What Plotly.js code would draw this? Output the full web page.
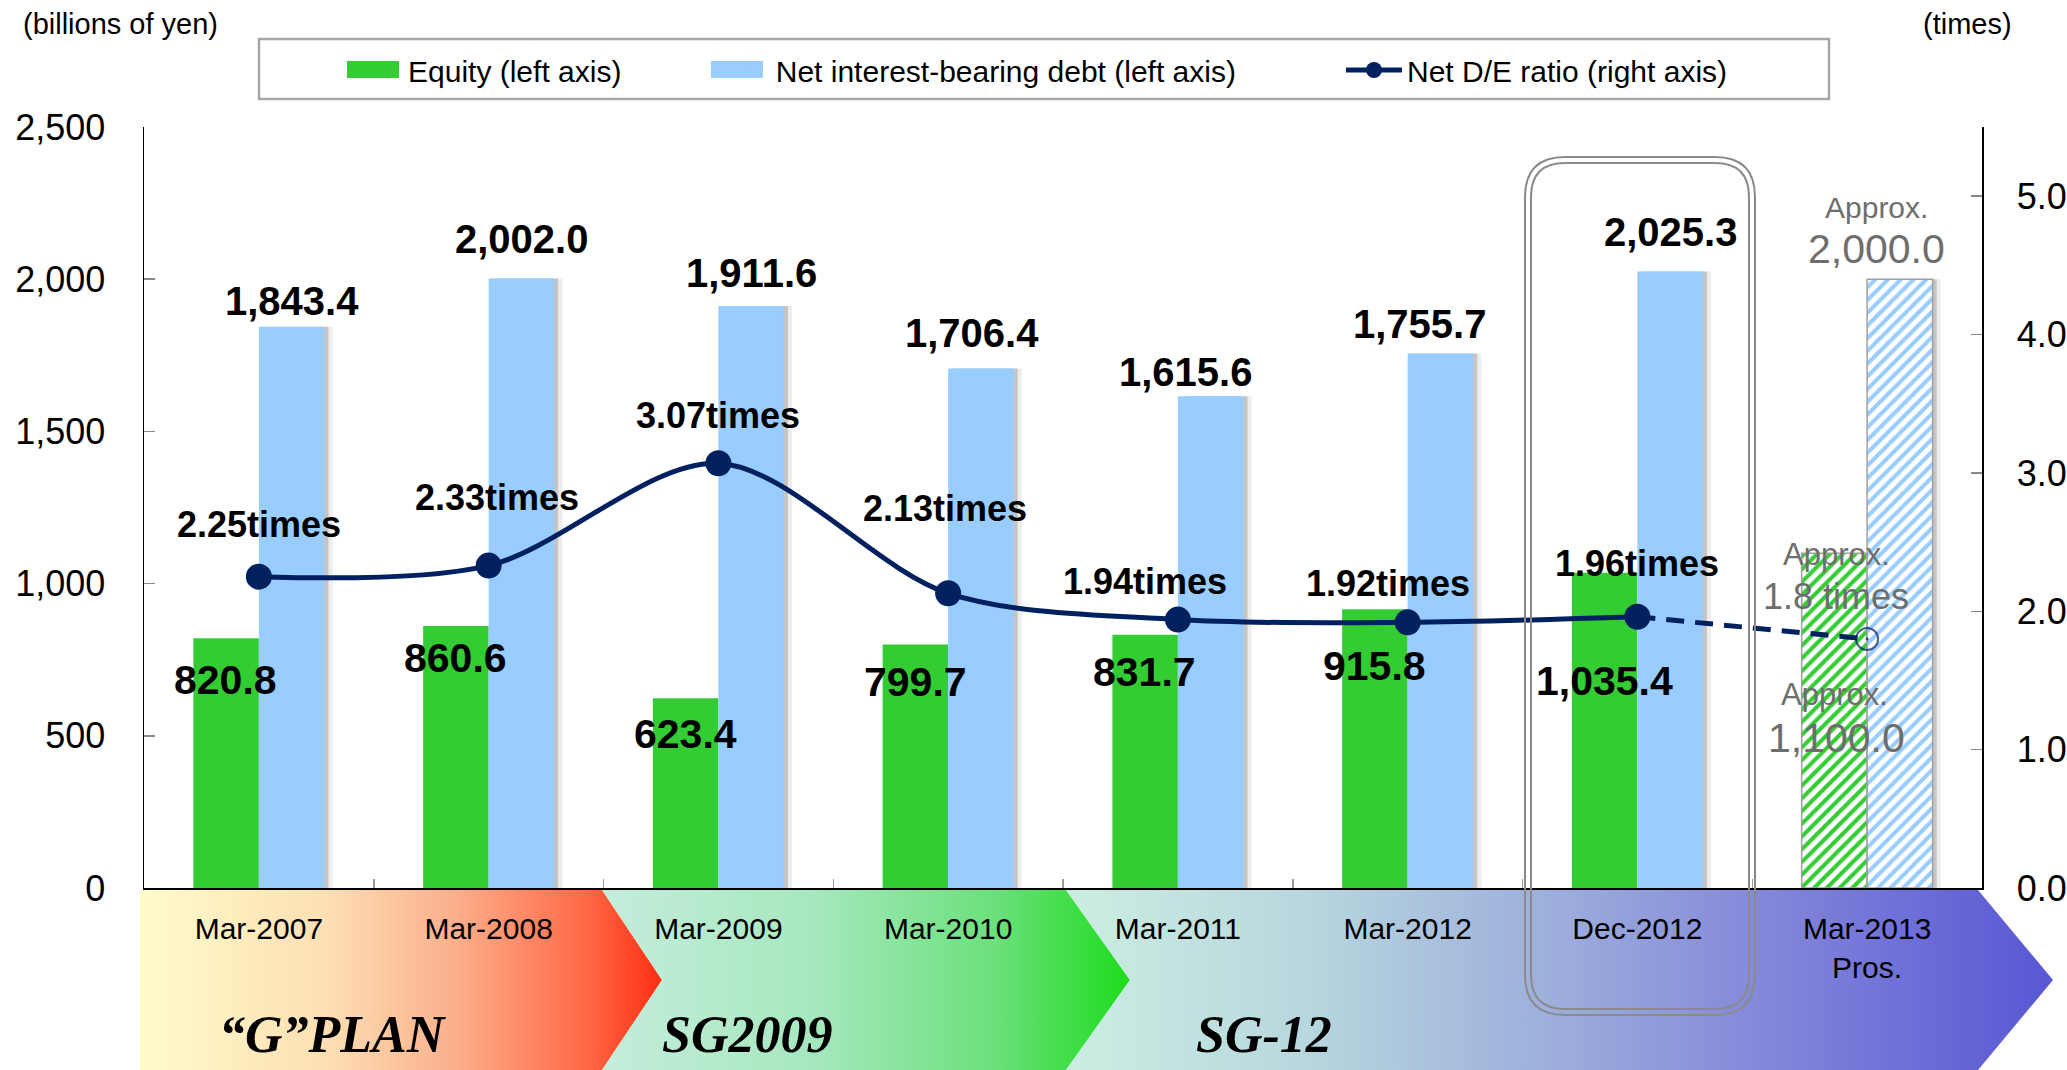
<!DOCTYPE html>
<html><head><meta charset="utf-8">
<script src="https://cdn.plot.ly/plotly-3.0.1.min.js"></script>
<style>html,body{margin:0;padding:0;background:#fff}#chart{width:2067px;height:1070px}</style>
</head><body><div id="chart"></div>
<script>
// ---------------- data ----------------
const categories = ['Mar-2007','Mar-2008','Mar-2009','Mar-2010','Mar-2011','Mar-2012','Dec-2012','Mar-2013<br>Pros.'];
const equity  = [820.8, 860.6, 623.4, 799.7, 831.7, 915.8, 1035.4, 1100.0];
const netDebt = [1843.4, 2002.0, 1911.6, 1706.4, 1615.6, 1755.7, 2025.3, 2000.0];
const deRatio = [2.25, 2.33, 3.07, 2.13, 1.94, 1.92, 1.96, 1.8];
const isProspect = [false, false, false, false, false, false, false, true];
const leftTicks  = [0, 500, 1000, 1500, 2000, 2500];
const rightTicks = [0, 1, 2, 3, 4, 5];
const planNames = ['“G”PLAN', 'SG2009', 'SG-12'];
const seriesNames = ['Equity (left axis)', 'Net interest-bearing debt (left axis)', 'Net D/E ratio (right axis)'];

// ---------------- styling / geometry ----------------
const W = 2067, H = 1070;
const PL = 144, PR = 1982, PT = 127, PB = 888;
const FONT = '"Liberation Sans", Arial, sans-serif';
const GREEN = '#33CC33', BLUE = '#99CCFF', NAVY = '#002060', GREYTXT = '#6E6E6E';
const BW = 0.285; // bar width in category units
// label nudges (pixels)
const debtLabelDy = [26, 40, 33, 36, 24, 30, 40];
const debtLabelDx = [0, 0, 0, -9, -25, -21, 0];
const eqLabelDy   = [42, 32, 36, 37, 37, 57, 108];
const deLabelDy   = [52, 68, 48, 85, 38, 39, 53];
const deLabelDx   = [0, 8, 0, -3, -33, -20, 0];

const fmt1 = v => v.toLocaleString('en-US', {minimumFractionDigits: 1, maximumFractionDigits: 1});
const nbsp = n => '\u00a0'.repeat(n);

const n = categories.length;
const lastIdx = n - 1;

// ---------------- traces ----------------
const traces = [];

// Bottom plan chevrons (pixel axes x/y)
const bands = [
  {x: [140, 602, 662, 602, 140], y: [890, 890, 980, 1070, 1070],
   cs: [[0,'#FFFBCB'],[0.35,'#FDE0B4'],[0.6,'#FBB08C'],[0.85,'#FF6A48'],[1,'#FF2E12']]},
  {x: [602, 1066, 1130, 1066, 602, 662], y: [890, 890, 980, 1070, 1070, 980],
   cs: [[0,'#C5EDDC'],[0.4,'#A6E8BE'],[0.75,'#6AE07A'],[1,'#1EDC1E']]},
  {x: [1066, 1978, 2053, 1978, 1066, 1130], y: [890, 890, 980, 1070, 1070, 980],
   cs: [[0,'#CBEEE1'],[0.25,'#B7D6DE'],[0.5,'#9CADDC'],[0.75,'#7E80D9'],[1,'#5757D4']]}
];
bands.forEach(b => traces.push({
  type: 'scatter', mode: 'lines', x: b.x.concat([b.x[0]]), y: b.y.concat([b.y[0]]),
  xaxis: 'x', yaxis: 'y', fill: 'toself', line: {width: 0, color: 'rgba(0,0,0,0)'},
  fillgradient: {type: 'horizontal', colorscale: b.cs},
  hoverinfo: 'skip', showlegend: false
}));

// bar shadows
[[0.018, 'rgba(0,0,0,0.17)'], [0.036, 'rgba(0,0,0,0.07)']].forEach(s => traces.push({
  type: 'bar', x: categories, y: netDebt, xaxis: 'x2', yaxis: 'y2',
  offset: s[0], width: BW, marker: {color: s[1], line: {width: 0}},
  hoverinfo: 'skip', showlegend: false
}));

const patShape = isProspect.map(p => p ? '/' : '');
const lineCol = isProspect.map(p => p ? '#A0A0A0' : 'rgba(0,0,0,0)');
const lineW = isProspect.map(p => p ? 1.5 : 0);

traces.push({
  type: 'bar', name: seriesNames[0] + nbsp(10), x: categories, y: equity, xaxis: 'x2', yaxis: 'y2',
  offset: -BW, width: BW,
  marker: {color: GREEN, line: {color: lineCol, width: lineW},
           pattern: {shape: patShape, bgcolor: 'white', size: 9, solidity: 0.45, fillmode: 'replace'}},
  hoverinfo: 'skip'
});
traces.push({
  type: 'bar', name: seriesNames[1] + nbsp(12), x: categories, y: netDebt, xaxis: 'x2', yaxis: 'y2',
  offset: 0, width: BW,
  marker: {color: BLUE, line: {color: lineCol, width: lineW},
           pattern: {shape: patShape, bgcolor: 'white', size: 9, solidity: 0.45, fillmode: 'replace'}},
  hoverinfo: 'skip'
});

// dashed prospect segment
traces.push({
  type: 'scatter', mode: 'lines+markers', x: categories.slice(lastIdx - 1), y: deRatio.slice(lastIdx - 1),
  xaxis: 'x2', yaxis: 'y3', showlegend: false, hoverinfo: 'skip',
  line: {color: NAVY, width: 5, dash: '18px,11px'},
  marker: {symbol: ['circle', 'circle-open-dot'], size: [0, 22], color: NAVY, line: {color: NAVY, width: 2}}
});
// solid actual line
traces.push({
  type: 'scatter', mode: 'lines+markers', name: seriesNames[2],
  x: categories.slice(0, lastIdx), y: deRatio.slice(0, lastIdx),
  xaxis: 'x2', yaxis: 'y3', hoverinfo: 'skip',
  line: {color: NAVY, width: 5, shape: 'spline', smoothing: 0.9},
  marker: {symbol: 'circle', size: 26, color: NAVY}
});

// ---------------- annotations ----------------
const ann = [];
const boldFont = (s) => ({family: FONT, size: s, color: '#000000', weight: 'bold'});
for (let i = 0; i < n; i++) {
  if (isProspect[i]) continue;
  ann.push({x: categories[i], y: netDebt[i], xref: 'x2', yref: 'y2', showarrow: false,
    text: '<b>' + fmt1(netDebt[i]) + '</b>', font: boldFont(40),
    xshift: 33 + debtLabelDx[i], yshift: debtLabelDy[i], yanchor: 'middle'});
  ann.push({x: categories[i], y: equity[i], xref: 'x2', yref: 'y2', showarrow: false,
    text: '<b>' + fmt1(equity[i]) + '</b>', font: boldFont(41),
    xshift: -33, yshift: -eqLabelDy[i], yanchor: 'middle'});
  ann.push({x: categories[i], y: deRatio[i], xref: 'x2', yref: 'y3', showarrow: false,
    text: '<b>' + deRatio[i].toFixed(2) + 'times</b>', font: boldFont(36),
    xshift: deLabelDx[i], yshift: deLabelDy[i], yanchor: 'middle'});
}
// prospect labels (grey)
const gFont = s => ({family: FONT, size: s, color: GREYTXT});
ann.push({x: categories[lastIdx], y: netDebt[lastIdx], xref: 'x2', yref: 'y2', showarrow: false,
  text: 'Approx.', font: gFont(30), xshift: 9, yshift: 72, yanchor: 'middle'});
ann.push({x: categories[lastIdx], y: netDebt[lastIdx], xref: 'x2', yref: 'y2', showarrow: false,
  text: fmt1(netDebt[lastIdx]), font: gFont(41), xshift: 9, yshift: 30, yanchor: 'middle'});
ann.push({x: categories[lastIdx], y: deRatio[lastIdx], xref: 'x2', yref: 'y3', showarrow: false,
  text: 'Approx.', font: gFont(31), xshift: -31, yshift: 84, yanchor: 'middle'});
ann.push({x: categories[lastIdx], y: deRatio[lastIdx], xref: 'x2', yref: 'y3', showarrow: false,
  text: deRatio[lastIdx].toFixed(1) + ' times', font: gFont(36), xshift: -31, yshift: 42, yanchor: 'middle'});
ann.push({x: categories[lastIdx], y: deRatio[lastIdx], xref: 'x2', yref: 'y3', showarrow: false,
  text: 'Approx.', font: gFont(31), xshift: -33, yshift: -56, yanchor: 'middle'});
ann.push({x: categories[lastIdx], y: deRatio[lastIdx], xref: 'x2', yref: 'y3', showarrow: false,
  text: fmt1(equity[lastIdx]), font: gFont(41), xshift: -31, yshift: -99, yanchor: 'middle'});

// axis unit titles
ann.push({x: 120, y: 24, xref: 'x', yref: 'y', showarrow: false, text: '(billions of yen)',
  font: {family: FONT, size: 29, color: '#000'}, yanchor: 'middle'});
ann.push({x: 1967, y: 24, xref: 'x', yref: 'y', showarrow: false, text: '(times)',
  font: {family: FONT, size: 29, color: '#000'}, yanchor: 'middle'});

// plan names
const planX = [333, 747, 1264];
planNames.forEach((p, k) => ann.push({x: planX[k], y: 1034, xref: 'x', yref: 'y', showarrow: false,
  text: '<b><i>' + p + '</i></b>', font: {family: '"Liberation Serif", "Times New Roman", serif', size: 52, color: '#000'},
  yanchor: 'middle'}));

// ---------------- shapes ----------------
function roundRect(x0, y0, x1, y1, r) {
  return `M${x0 + r},${y0} L${x1 - r},${y0} Q${x1},${y0} ${x1},${y0 + r} L${x1},${y1 - r} Q${x1},${y1} ${x1 - r},${y1} ` +
         `L${x0 + r},${y1} Q${x0},${y1} ${x0},${y1 - r} L${x0},${y0 + r} Q${x0},${y0} ${x0 + r},${y0} Z`;
}
const shapes = [
  {type: 'rect', xref: 'x', yref: 'y', x0: 259, x1: 1829, y0: 39, y1: 99,
   line: {color: '#A6A6A6', width: 2.5}, fillcolor: 'white', layer: 'above'},
  // wide legend swatches (behind Plotly's own small legend squares)
  {type: 'rect', xref: 'x', yref: 'y', x0: 347, x1: 399, y0: 61, y1: 78,
   line: {width: 0}, fillcolor: GREEN, layer: 'above'},
  {type: 'rect', xref: 'x', yref: 'y', x0: 711, x1: 763, y0: 61, y1: 78,
   line: {width: 0}, fillcolor: BLUE, layer: 'above'},
  {type: 'path', xref: 'x', yref: 'y', path: roundRect(1525, 157, 1755, 1015, 40),
   line: {color: '#8A8A8A', width: 2}, layer: 'above'},
  {type: 'path', xref: 'x', yref: 'y', path: roundRect(1531, 163, 1749, 1009, 34),
   line: {color: '#8A8A8A', width: 2}, layer: 'above'}
];

// ---------------- layout ----------------
const layout = {
  width: W, height: H,
  margin: {l: 0, r: 0, t: 0, b: 0, pad: 0},
  paper_bgcolor: '#ffffff', plot_bgcolor: 'rgba(0,0,0,0)',
  barmode: 'overlay', hovermode: false, dragmode: false,
  font: {family: FONT, color: '#000'},
  showlegend: true,
  legend: {orientation: 'h', x: 342 / W, xanchor: 'left', y: 1 - 44 / H, yanchor: 'top',
           bgcolor: 'rgba(0,0,0,0)', borderwidth: 0, itemwidth: 56,
           font: {family: FONT, size: 30, color: '#000'}, traceorder: 'normal'},
  xaxis: {domain: [0, 1], range: [0, W], visible: false, fixedrange: true, anchor: 'y'},
  yaxis: {domain: [0, 1], range: [H, 0], visible: false, fixedrange: true, anchor: 'x'},
  xaxis2: {domain: [PL / W, PR / W], anchor: 'y2', type: 'category',
           categoryorder: 'array', categoryarray: categories, range: [-0.5, n - 0.5],
           showline: true, linecolor: '#000', linewidth: 1.5, mirror: false,
           ticks: 'inside', tickson: 'boundaries', ticklen: 9, tickcolor: '#999', tickwidth: 1.5,
           tickfont: {family: FONT, size: 30, color: '#000'}, ticklabelstandoff: 13,
           showgrid: false, zeroline: false, fixedrange: true, automargin: false},
  yaxis2: {domain: [(H - PB) / H, (H - PT) / H], anchor: 'x2', range: [0, 2500],
           tickvals: leftTicks, tickformat: ',d',
           showline: true, linecolor: '#000', linewidth: 1.5,
           ticks: 'inside', ticklen: 11, tickcolor: '#888', tickwidth: 1.5,
           tickfont: {family: FONT, size: 36, color: '#000'}, ticklabelstandoff: 30,
           showgrid: false, zeroline: false, fixedrange: true, automargin: false},
  yaxis3: {overlaying: 'y2', anchor: 'x2', side: 'right', range: [0, 5.5],
           tickvals: rightTicks, tickformat: '.1f',
           showline: true, linecolor: '#000', linewidth: 1.5,
           ticks: 'inside', ticklen: 11, tickcolor: '#888', tickwidth: 1.5,
           tickfont: {family: FONT, size: 36, color: '#000'}, ticklabelstandoff: 26,
           showgrid: false, zeroline: false, fixedrange: true, automargin: false},
  annotations: ann,
  shapes: shapes
};

Plotly.newPlot('chart', traces, layout, {staticPlot: true, displayModeBar: false});
</script>
</body></html>
